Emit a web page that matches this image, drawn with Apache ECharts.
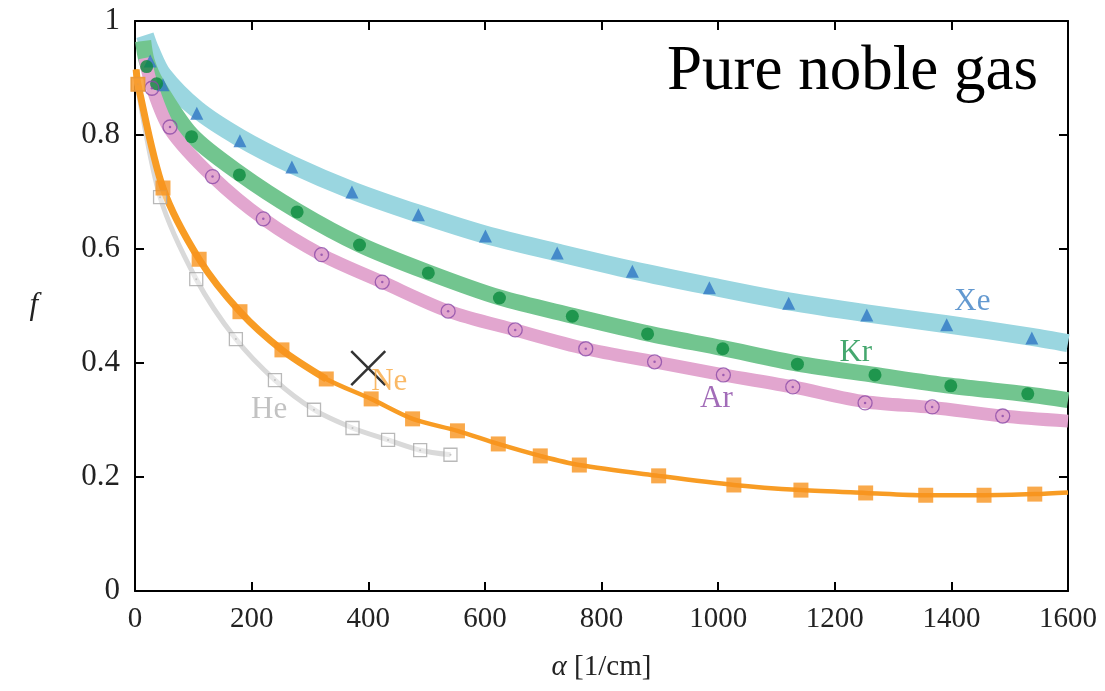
<!DOCTYPE html>
<html>
<head>
<meta charset="utf-8">
<script src="https://cdn.jsdelivr.net/npm/echarts@6/dist/echarts.min.js"></script>
<style>
  html, body { margin: 0; padding: 0; background: #fff; }
  #chart { width: 1105px; height: 691px; }
</style>
</head>
<body>
<div id="chart"></div>
<script>
// measured points [alpha (1/cm), f]
const xePoints = [[26, 0.93], [48, 0.888], [106, 0.838], [180, 0.79], [269, 0.744], [372, 0.70],
  [486, 0.66], [601, 0.623], [724, 0.593], [853, 0.561], [985, 0.532], [1121, 0.505],
  [1255, 0.484], [1392, 0.467], [1538, 0.444]];
const krPoints = [[20, 0.92], [37, 0.89], [97, 0.797], [179, 0.73], [278, 0.665], [385, 0.607],
  [503, 0.558], [625, 0.514], [750, 0.482], [879, 0.451], [1008, 0.425], [1136, 0.398],
  [1269, 0.379], [1399, 0.36], [1531, 0.346]];
const arPoints = [[29, 0.882], [60, 0.814], [133, 0.727], [220, 0.653], [320, 0.59], [424, 0.542],
  [537, 0.491], [652, 0.458], [773, 0.425], [891, 0.402], [1009, 0.379], [1128, 0.358],
  [1252, 0.33], [1367, 0.323], [1488, 0.307]];
const nePoints = [[5, 0.889], [48, 0.707], [110, 0.582], [180, 0.49], [252, 0.423], [328, 0.372],
  [405, 0.337], [476, 0.302], [553, 0.281], [623, 0.258], [695, 0.237], [762, 0.221],
  [898, 0.202], [1027, 0.186], [1142, 0.177], [1253, 0.172], [1356, 0.168], [1456, 0.168],
  [1543, 0.17]];
const hePoints = [[5, 0.889], [43, 0.691], [105, 0.547], [173, 0.442], [240, 0.37], [307, 0.318],
  [373, 0.286], [434, 0.265], [489, 0.247], [541, 0.239]];

// model curves (bands)
const xeBand = [[17, 0.975], [26, 0.95], [48, 0.905], [106, 0.845], [180, 0.795], [269, 0.748],
  [372, 0.703], [486, 0.662], [601, 0.625], [724, 0.594], [853, 0.563], [985, 0.535],
  [1121, 0.508], [1255, 0.487], [1392, 0.468], [1538, 0.446], [1600, 0.435]];
const krBand = [[14, 0.965], [20, 0.93], [37, 0.89], [97, 0.8], [179, 0.733], [278, 0.667],
  [385, 0.608], [503, 0.559], [625, 0.515], [750, 0.483], [879, 0.452], [1008, 0.426],
  [1136, 0.399], [1269, 0.379], [1399, 0.36], [1531, 0.345], [1600, 0.335]];
const arBand = [[17, 0.935], [29, 0.885], [60, 0.81], [133, 0.727], [220, 0.653], [320, 0.59],
  [424, 0.542], [537, 0.491], [652, 0.458], [773, 0.425], [891, 0.402], [1009, 0.379],
  [1128, 0.358], [1252, 0.332], [1367, 0.322], [1488, 0.307], [1600, 0.298]];
// Ne curve: thicker early part, thinner tail
const neLineHead = [[2, 0.915], [5, 0.889], [48, 0.707], [110, 0.582], [180, 0.49], [252, 0.423],
  [328, 0.372]];
const neLine = [[2, 0.915], [5, 0.889], [48, 0.707], [110, 0.582], [180, 0.49], [252, 0.423],
  [328, 0.372], [405, 0.337], [476, 0.302], [553, 0.281], [623, 0.258], [695, 0.237],
  [762, 0.221], [898, 0.202], [1027, 0.186], [1142, 0.177], [1253, 0.172], [1356, 0.168],
  [1456, 0.168], [1543, 0.17], [1600, 0.173]];
const heLine = [[2, 0.9], [43, 0.691], [105, 0.547], [173, 0.442], [240, 0.37], [307, 0.318],
  [373, 0.286], [434, 0.265], [489, 0.247], [541, 0.239]];

const crossPoint = [[400, 0.391]];

const gasLabels = [
  { name: 'Xe', value: [1436, 0.508], color: '#3c7fc4' },
  { name: 'Kr', value: [1236, 0.418], color: '#17914a' },
  { name: 'Ar', value: [997, 0.337], color: '#8b47a6' },
  { name: 'Ne', value: [436, 0.367], color: '#f9a740' },
  { name: 'He', value: [230, 0.317], color: '#b3b3b3' }
];

const serif = '"Liberation Serif", "DejaVu Serif", serif';
const frame = { show: true, onZero: false, lineStyle: { color: '#000', width: 2 } };
const ticks = { inside: true, length: 9, lineStyle: { color: '#000', width: 2 } };

function band(data, color, width) {
  return { type: 'line', data, symbol: 'none', smooth: 0.3, silent: true,
    lineStyle: { color, width, cap: 'butt', join: 'round' }, z: 1 };
}
function marks(data, symbol, size, style, z) {
  return { type: 'scatter', data, symbol, symbolSize: size, itemStyle: style, z: z || 3, silent: true };
}

const chart = echarts.init(document.getElementById('chart'));
chart.setOption({
  animation: false,
  backgroundColor: '#fff',
  title: {
    text: 'Pure noble gas', right: 62, top: 36,
    textStyle: { fontFamily: serif, fontWeight: 'normal', fontSize: 63, color: '#000' }
  },
  grid: { left: 135, right: 37, top: 21, bottom: 100 },
  xAxis: [{
    type: 'value', min: 0, max: 1600, interval: 200,
    name: '{i|α} [1/cm]', nameLocation: 'middle', nameGap: 62,
    nameTextStyle: { fontFamily: serif, fontSize: 29, color: '#222',
      rich: { i: { fontFamily: serif, fontStyle: 'italic', fontSize: 29, color: '#222' } } },
    axisLine: frame, axisTick: ticks,
    axisLabel: { fontFamily: serif, fontSize: 29, color: '#222', margin: 14, formatter: v => String(v) },
    splitLine: { show: false }
  }, {
    type: 'value', position: 'top', min: 0, max: 1600, interval: 200,
    axisLine: frame, axisTick: ticks,
    axisLabel: { show: false }, splitLine: { show: false }
  }],
  yAxis: [{
    type: 'value', min: 0, max: 1, interval: 0.2,
    name: 'f', nameLocation: 'middle', nameGap: 97, nameRotate: 0,
    nameTextStyle: { fontFamily: serif, fontStyle: 'italic', fontSize: 31, color: '#222' },
    axisLine: frame, axisTick: ticks,
    axisLabel: { fontFamily: serif, fontSize: 31, color: '#222', margin: 15 },
    splitLine: { show: false }
  }, {
    type: 'value', position: 'right', min: 0, max: 1, interval: 0.2,
    axisLine: frame, axisTick: ticks,
    axisLabel: { show: false }, splitLine: { show: false }
  }],
  series: [
    band(xeBand, '#9ad6e0', 18),
    band(krBand, '#72c58f', 16),
    band(arBand, '#e2a6cf', 13),
    band(heLine, '#d9d9d9', 5),
    band(neLine, '#f89c24', 4.5),
    band(neLineHead, '#f89c24', 7),
    marks(xePoints, 'triangle', 13, { color: '#2f77c4' }),
    marks(krPoints, 'circle', 13, { color: '#0a8a3d' }),
    marks(arPoints, 'circle', 14, { color: 'rgba(255,255,255,0)', borderColor: '#8b4aa8', borderWidth: 1.3 }),
    marks(arPoints, 'circle', 2.5, { color: '#8b4aa8' }, 4),
    marks(hePoints, 'rect', 13, { color: 'rgba(255,255,255,0.5)', borderColor: '#a8a8a8', borderWidth: 1.3 }),
    marks(hePoints, 'circle', 2, { color: '#b8b8b8' }, 4),
    marks(nePoints, 'rect', 15, { color: '#f7931e' }, 5),
    {
      type: 'scatter', data: crossPoint, symbol: 'path://M0,0L10,10M10,0L0,10', symbolSize: 34,
      itemStyle: { color: 'none', borderColor: '#000', borderWidth: 2.5 }, z: 6, silent: true
    },
    {
      type: 'scatter', symbol: 'circle', symbolSize: 1, silent: true, z: 7,
      itemStyle: { color: 'rgba(0,0,0,0)' },
      data: gasLabels.map(d => ({ name: d.name, value: d.value,
        label: { color: d.color } })),
      label: { show: true, position: 'inside', formatter: '{b}', fontFamily: serif, fontSize: 31 }
    }
  ]
});
</script>
</body>
</html>
